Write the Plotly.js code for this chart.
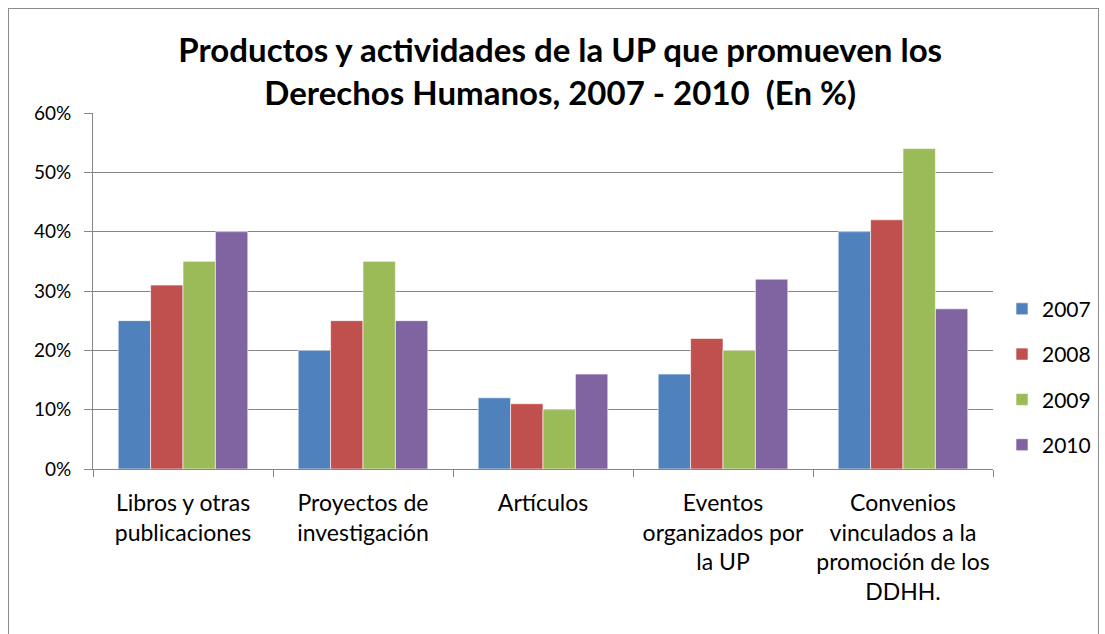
<!DOCTYPE html>
<html>
<head>
<meta charset="utf-8">
<script src="https://cdn.plot.ly/plotly-3.0.1.min.js"></script>
<style>
  html, body { margin: 0; padding: 0; background: #fff; }
  #wrap { position: relative; width: 1105px; height: 634px; overflow: hidden; }
  #chart { position: absolute; left: 0; top: 0; width: 1105px; height: 634px; }
  #frame { position: absolute; left: 8px; top: 8px; width: 1089px; height: 640px; border: 1px solid #8c8c8c; pointer-events: none; }
</style>
</head>
<body>
<div id="wrap">
  <div id="chart"></div>
  <div id="frame"></div>
</div>
<script>
const categories = [
  "Libros y otras<br>publicaciones",
  "Proyectos de<br>investigación",
  "Artículos",
  "Eventos<br>organizados por<br>la UP",
  "Convenios<br>vinculados a la<br>promoción de los<br>DDHH."
];
const years = ["2007", "2008", "2009", "2010"];
const v2007 = [0.25, 0.20, 0.12, 0.16, 0.40];
const v2008 = [0.31, 0.25, 0.11, 0.22, 0.42];
const v2009 = [0.35, 0.35, 0.10, 0.20, 0.54];
const v2010 = [0.40, 0.25, 0.16, 0.32, 0.27];
const seriesValues = [v2007, v2008, v2009, v2010];
const colors = ["#4F81BD", "#C0504D", "#9BBB59", "#8064A2"];
const yTickVals = [0, 0.1, 0.2, 0.3, 0.4, 0.5, 0.6];
const yTickText = ["0%", "10%", "20%", "30%", "40%", "50%", "60%"];

const font = "Lato, 'Open Sans', sans-serif";

const traces = years.map((yr, i) => ({
  type: "bar",
  name: yr,
  x: categories,
  y: seriesValues[i],
  legendgroup: yr,
  marker: { color: colors[i], line: { color: "rgba(255,255,255,0.6)", width: 1 } },
  hoverinfo: "x+y+name"
}));

const layout = {
  width: 1105,
  height: 634,
  paper_bgcolor: "rgba(0,0,0,0)",
  plot_bgcolor: "#fff",
  margin: { l: 93, r: 112, t: 113, b: 165, autoexpand: false },
  font: { family: font, color: "#000", size: 19 },
  title: {
    text: "<b>Productos y actividades de la UP que promueven los<br>Derechos Humanos, 2007 - 2010  (En %)</b>",
    font: { family: font, size: 33, color: "#000" },
    x: 0.507, xref: "container", xanchor: "center",
    y: 0.902, yref: "container", yanchor: "top"
  },
  barmode: "group",
  bargap: 0.28,
  bargroupgap: 0,
  xaxis: {
    type: "category",
    tickson: "boundaries",
    ticks: "outside",
    ticklen: 7,
    tickcolor: "#868686",
    showline: true,
    linecolor: "#868686",
    linewidth: 1,
    tickangle: 0,
    automargin: false,
    ticklabelstandoff: 13,
    tickfont: { family: font, size: 23, color: "#000" },
    fixedrange: true
  },
  yaxis: {
    range: [0, 0.6],
    tickvals: yTickVals,
    ticktext: yTickText,
    ticks: "outside",
    ticklen: 8,
    tickcolor: "#868686",
    showline: true,
    linecolor: "#868686",
    linewidth: 1,
    showgrid: true,
    gridcolor: "#868686",
    gridwidth: 1,
    zeroline: false,
    automargin: false,
    ticklabelstandoff: 9,
    tickfont: { family: font, size: 19, color: "#000" },
    fixedrange: true
  },
  showlegend: true,
  legend: {
    xref: "container",
    x: 0.9068, xanchor: "left",
    y: 0.258, yanchor: "middle",
    traceorder: "grouped",
    tracegroupgap: 15,
    font: { family: font, size: 21, color: "#000" },
    itemwidth: 30
  }
};

Plotly.newPlot("chart", traces, layout, { displayModeBar: false, staticPlot: true });
</script>
</body>
</html>
